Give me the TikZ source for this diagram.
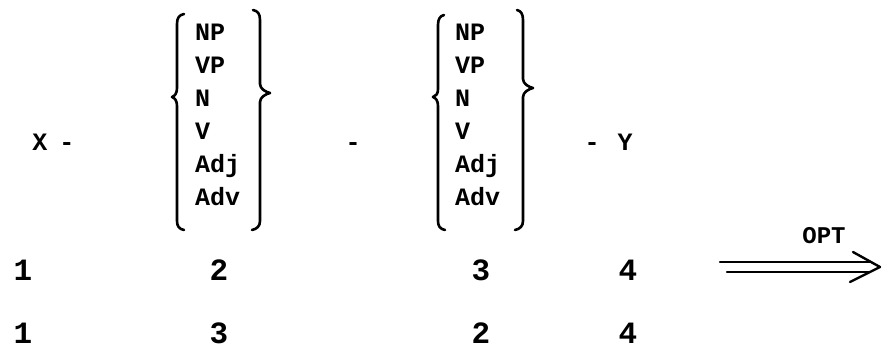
\documentclass[tikz,border=0pt]{standalone}
\usepackage{fontspec}
\setmainfont{Liberation Mono}
\begin{document}
\begin{tikzpicture}[x=1pt,y=-1pt,
  every node/.style={inner sep=0pt, outer sep=0pt},
  lbl/.style={font=\fontsize{25}{25}\selectfont\bfseries, anchor=base},
  item/.style={font=\fontsize{25}{25}\selectfont\bfseries, anchor=base west},
  digit/.style={font=\fontsize{31}{31}\selectfont\bfseries, anchor=base},
  optlbl/.style={font=\fontsize{24}{24}\selectfont\bfseries, anchor=base},
  bracestroke/.style={line width=2.6pt, line cap=round, line join=round},
  arrowstroke/.style={line width=2.4pt, line cap=round}]
\useasboundingbox (0,0) rectangle (886,349);
% first line
\node[lbl] (X) at (40,150) {X};
\node[lbl] (d1) at (67,150) {-};
\node[lbl] (d2) at (353,150) {-};
\node[lbl] (d3) at (592,150) {-};
\node[lbl] (Y) at (625,150) {Y};
% group 1 items
\node[item] (a1) at (195,40) {NP};
\node[item] (a2) at (195,73) {VP};
\node[item] (a3) at (195,106) {N};
\node[item] (a4) at (195,139) {V};
\node[item] (a5) at (195,172) {Adj};
\node[item] (a6) at (195,205) {Adv};
% group 2 items
\node[item] (b1) at (455,40) {NP};
\node[item] (b2) at (455,73) {VP};
\node[item] (b3) at (455,106) {N};
\node[item] (b4) at (455,139) {V};
\node[item] (b5) at (455,172) {Adj};
\node[item] (b6) at (455,205) {Adv};
% braces group 1
\draw[bracestroke] (184,14) .. controls (179,15) and (177,18) .. (177,24)
  -- (177,88) .. controls (177,93) and (175,96) .. (172,97)
  .. controls (175,98) and (177,101) .. (177,106)
  -- (177,221) .. controls (177,226) and (179,229) .. (184,230);
\draw[bracestroke] (253,10) .. controls (258,11) and (260,14) .. (260,20)
  -- (260,84) .. controls (260,89) and (266,92) .. (270,93)
  .. controls (266,94) and (260,97) .. (260,102)
  -- (260,221) .. controls (260,226) and (257,229) .. (252,230);
% braces group 2
\draw[bracestroke] (444,15) .. controls (440,16) and (438,19) .. (438,25)
  -- (438,89) .. controls (438,94) and (436,96) .. (433,97)
  .. controls (436,98) and (438,101) .. (438,106)
  -- (438,221) .. controls (438,226) and (440,229) .. (445,230);
\draw[bracestroke] (517,10) .. controls (521,11) and (523,14) .. (523,20)
  -- (523,79) .. controls (523,84) and (529,87) .. (533,88)
  .. controls (529,89) and (523,92) .. (523,97)
  -- (523,221) .. controls (523,226) and (520,229) .. (515,230);
% numbering rows
\node[digit] (r1a) at (23,280) {1};
\node[digit] (r1b) at (219,280) {2};
\node[digit] (r1c) at (481,280) {3};
\node[digit] (r1d) at (628,280) {4};
\node[digit] (r2a) at (23,343) {1};
\node[digit] (r2b) at (219,343) {3};
\node[digit] (r2c) at (481,343) {2};
\node[digit] (r2d) at (628,343) {4};
% OPT arrow
\coordinate (arrS) at (720,262);
\coordinate (arrS2) at (727,272);
\coordinate (arrT) at (880,267);
\node[optlbl] (opt) at (824,243) {OPT};
\draw[arrowstroke] (arrS) -- (870,262);
\draw[arrowstroke] (arrS2) -- (870,272);
\draw[arrowstroke, line join=round] (853,252) -- (arrT) -- (850,282);
\end{tikzpicture}
\end{document}
